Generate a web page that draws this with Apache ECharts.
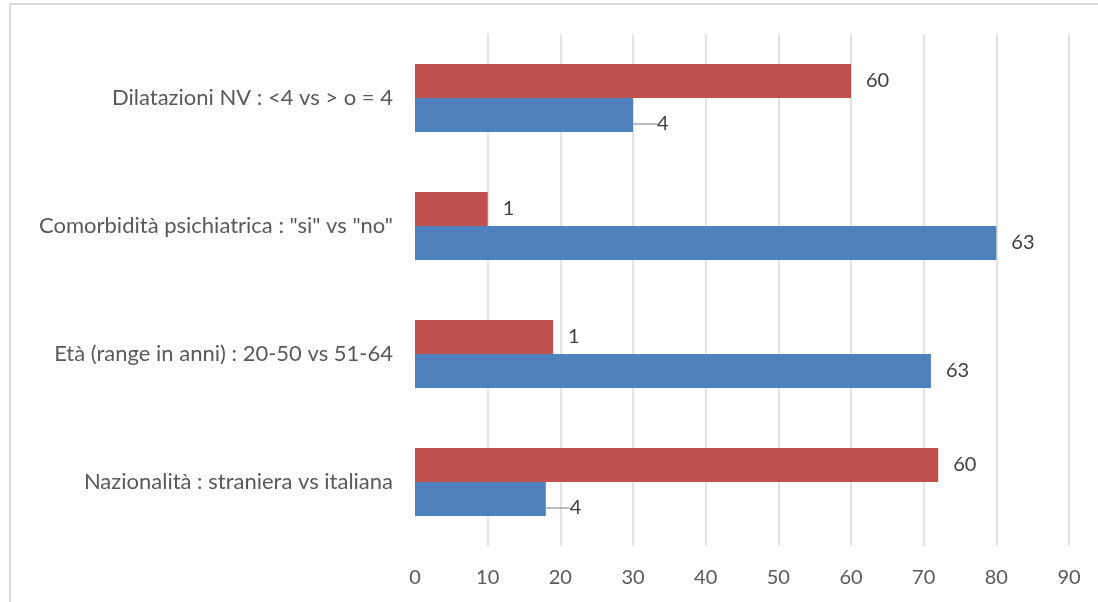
<!DOCTYPE html>
<html>
<head>
<meta charset="utf-8">
<script src="https://cdn.jsdelivr.net/npm/echarts@6/dist/echarts.min.js"></script>
<style>
  html, body { margin: 0; padding: 0; background: #ffffff; }
  #chart { width: 1098px; height: 602px; }
</style>
</head>
<body>
<div id="chart"></div>
<script>
// Categories listed bottom-to-top, as the category axis draws them
const categories = [
  'Nazionalità : straniera vs italiana',
  'Età (range in anni) : 20-50 vs 51-64',
  'Comorbidità psichiatrica : "si" vs "no"',
  'Dilatazioni NV : <4 vs > o = 4'
];
// Bar lengths on the horizontal scale
const blueValues = [18, 71, 80, 30];
const redValues = [72, 19, 10, 60];
// Counts printed next to each bar
const blueCounts = ['4', '63', '63', '4'];
const redCounts = ['60', '1', '1', '60'];
// Horizontal axis ticks
const xTicks = [0, 10, 20, 30, 40, 50, 60, 70, 80, 90];

const FONT = 'Lato, "Open Sans", sans-serif';
const RED = '#C0504D';
const BLUE = '#4F81BD';

// One colour per gridline; the line at zero is left out
const gridColors = xTicks.map((t, i) => i === 0 ? 'rgba(0,0,0,0)' : '#d9d9d9');

// Short counts are nudged below the bar end and tied to it by a leader line
const isShifted = (cnt) => cnt.length === 1 && cnt !== '1';

const chart = echarts.init(document.getElementById('chart'), null, { renderer: 'canvas' });

const valueLabel = (counts) => ({
  show: true,
  position: 'right',
  distance: 15,
  color: '#404040',
  fontFamily: FONT,
  fontSize: 20,
  formatter: (p) => counts[p.dataIndex]
});

chart.setOption({
  animation: false,
  backgroundColor: '#ffffff',
  graphic: [{
    type: 'rect',
    silent: true,
    shape: { x: 10, y: 4, width: 1200, height: 700 },
    style: { fill: 'none', stroke: '#d9d9d9', lineWidth: 2 }
  }],
  grid: { left: 415, right: 29, top: 34, bottom: 56, containLabel: false },
  xAxis: {
    type: 'value',
    min: xTicks[0],
    max: xTicks[xTicks.length - 1],
    interval: xTicks[1] - xTicks[0],
    axisLine: { show: false },
    axisTick: { show: false },
    axisLabel: { color: '#595959', fontFamily: FONT, fontSize: 20, margin: 22 },
    splitLine: { show: true, lineStyle: { color: gridColors, width: 1.5 } }
  },
  yAxis: {
    type: 'category',
    data: categories,
    axisLine: { show: false },
    axisTick: { show: false },
    axisLabel: { color: '#595959', fontFamily: FONT, fontSize: 22, margin: 22 }
  },
  series: [
    {
      name: 'red',
      type: 'bar',
      data: redValues,
      itemStyle: { color: RED },
      barGap: '0%',
      barCategoryGap: '47%',
      label: valueLabel(redCounts)
    },
    {
      name: 'blue',
      type: 'bar',
      data: blueValues.map((v, i) => ({
        value: v,
        labelLine: { show: isShifted(blueCounts[i]) }
      })),
      itemStyle: { color: BLUE },
      barGap: '0%',
      barCategoryGap: '47%',
      label: valueLabel(blueCounts),
      labelLayout: (p) => isShifted(blueCounts[p.dataIndex]) ? { dx: 9, dy: 9 } : { dx: 0 },
      labelLine: { lineStyle: { color: '#a6a6a6', width: 1.5 } }
    }
  ]
});
</script>
</body>
</html>
